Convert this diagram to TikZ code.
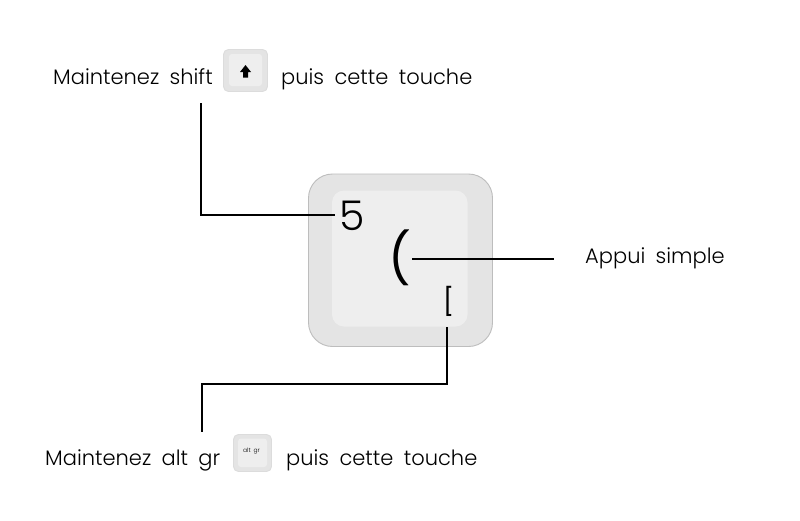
\documentclass[tikz,border=0pt]{standalone}
\usepackage{fontspec}
\setmainfont[WordSpace=1.8]{Poppins Light}
\newfontfamily\heavyfont{Poppins}
\definecolor{keyedge}{HTML}{BDBDBD}
\definecolor{smalledge}{HTML}{DCDCDC}
\definecolor{keyouter}{HTML}{E4E4E4}
\definecolor{keyinner}{HTML}{EEEEEE}
\tikzset{
  lbl/.style={font=\fontsize{21}{24}\selectfont, text=black, inner sep=0pt, anchor=base west},
  conn/.style={draw=black, line width=1.5pt},
  keyout/.style={draw=keyedge, fill=keyouter, line width=0.9pt},
  smallout/.style={draw=smalledge, fill=keyouter, line width=0.9pt},
  keyin/.style={fill=keyinner, draw=none},
}
\begin{document}
\begin{tikzpicture}[x=1pt,y=-1pt]
\useasboundingbox (0,0) rectangle (800,520);
\fill[white] (0,0) rectangle (800,520);
% main key
\draw[keyout, rounded corners=24pt] (308.5,174) rectangle (492.5,346.5);
\fill[keyin, rounded corners=12pt] (332,190.5) rectangle (467.5,326.5);
\node[font=\fontsize{41}{44}\selectfont, inner sep=0pt, anchor=base] (five) at (352,230) {5};
\node[font=\heavyfont\fontsize{50}{54}\selectfont, inner sep=0pt, anchor=base] (paren) at (400,276) {(};
\node[font=\heavyfont\fontsize{27}{30}\selectfont, inner sep=0pt, anchor=base] (brack) at (448.5,311) {[};
% small keys
\draw[smallout, rounded corners=5pt] (223.5,49.5) rectangle (267.5,91.5);
\fill[keyin, rounded corners=3pt] (229,54) rectangle (262,86);
\fill[black] (245.5,65) -- (251,72) -- (248,72) -- (248,77.5) -- (243,77.5) -- (243,72) -- (240,72) -- cycle;
\draw[smallout, rounded corners=5pt] (233.5,434.5) rectangle (271.5,471.5);
\fill[keyin, rounded corners=3pt] (238,438.5) rectangle (267,467);
\node[font=\fontsize{6}{7}\selectfont, inner sep=0pt] (altgr) at (251.5,451) {alt gr};
% labels
\node[lbl] (l1) at (53,84) {Maintenez shift};
\node[lbl] (l2) at (281,84) {puis cette touche};
\node[lbl] (l3) at (585,263) {Appui simple};
\node[lbl] (l4) at (45,465) {Maintenez alt gr};
\node[lbl] (l5) at (286,465) {puis cette touche};
% connectors
\coordinate (c1a) at (201,103);
\coordinate (c1b) at (335,215);
\coordinate (c2a) at (412,259);
\coordinate (c2b) at (554,259);
\coordinate (c3a) at (447,327);
\coordinate (c3m) at (447,384);
\coordinate (c3n) at (202,384);
\coordinate (c3b) at (202,432);
\draw[conn] (c1a) |- (c1b);
\draw[conn] (c2a) -- (c2b);
\draw[conn] (c3a) -- (c3m) -- (c3n) -- (c3b);
\end{tikzpicture}
\end{document}
